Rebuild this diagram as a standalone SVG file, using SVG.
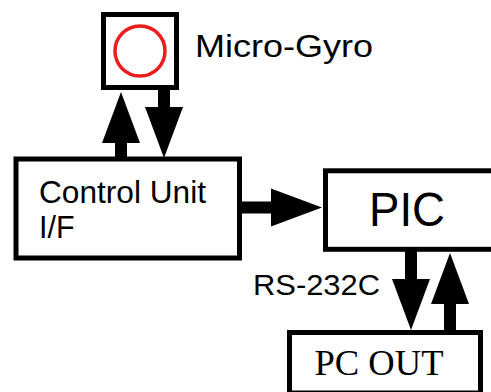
<svg xmlns="http://www.w3.org/2000/svg" width="491" height="392" viewBox="0 0 491 392">
  <style>
    .box { fill: #ffffff; stroke: #000000; stroke-width: 5; }
    .lbl { font-family: "Liberation Sans", Arial, sans-serif; fill: #000000; }
    .serif { font-family: "Liberation Serif", "Times New Roman", serif; fill: #000000; }
    .conn { stroke: #000000; stroke-width: 12; fill: none; marker-end: url(#head); }
  </style>
  <defs>
    <marker id="head" markerUnits="userSpaceOnUse" markerWidth="52" markerHeight="38" refX="6" refY="19" orient="auto" overflow="visible">
      <path d="M0,0 L51,19 L0,38 Z" fill="#000000"/>
    </marker>
  </defs>
  <rect width="491" height="392" fill="#ffffff"/>

  <g id="gyro">
    <rect class="box" x="103.5" y="14.5" width="73" height="73"/>
    <circle cx="140" cy="51" r="25" fill="none" stroke="#ea1c1c" stroke-width="3.5"/>
  </g>
  <g id="gyro-label">
    <text class="lbl" x="195" y="56.5" font-size="31" textLength="178" lengthAdjust="spacingAndGlyphs">Micro-Gyro</text>
  </g>

  <g id="control-unit">
    <rect class="box" x="16" y="159" width="223.5" height="99"/>
    <text class="lbl" x="39" y="202.5" font-size="30.5" textLength="167" lengthAdjust="spacingAndGlyphs">Control Unit</text>
    <text class="lbl" x="39" y="237.5" font-size="30.5">I/F</text>
  </g>

  <g id="pic">
    <rect class="box" x="325.5" y="170.8" width="200" height="78.5"/>
    <text class="lbl" x="369" y="225.7" font-size="48" textLength="76" lengthAdjust="spacingAndGlyphs">PIC</text>
  </g>

  <g id="pc-out">
    <rect class="box" x="289.5" y="332.5" width="191" height="60.5"/>
    <text class="serif" x="314.5" y="375.3" font-size="36" textLength="129" lengthAdjust="spacingAndGlyphs">PC OUT</text>
  </g>

  <g id="connectors">
    <line class="conn" x1="121" y1="159" x2="121" y2="137"/>
    <line class="conn" x1="164" y1="88" x2="164" y2="113"/>
    <line class="conn" x1="240" y1="207.5" x2="277" y2="207.5"/>
    <line class="conn" x1="411" y1="249" x2="411" y2="285"/>
    <line class="conn" x1="450" y1="331" x2="450" y2="298"/>
  </g>
  <g id="rs232c-label">
    <text class="lbl" x="253" y="295" font-size="29.5" textLength="127" lengthAdjust="spacingAndGlyphs">RS-232C</text>
  </g>
</svg>
